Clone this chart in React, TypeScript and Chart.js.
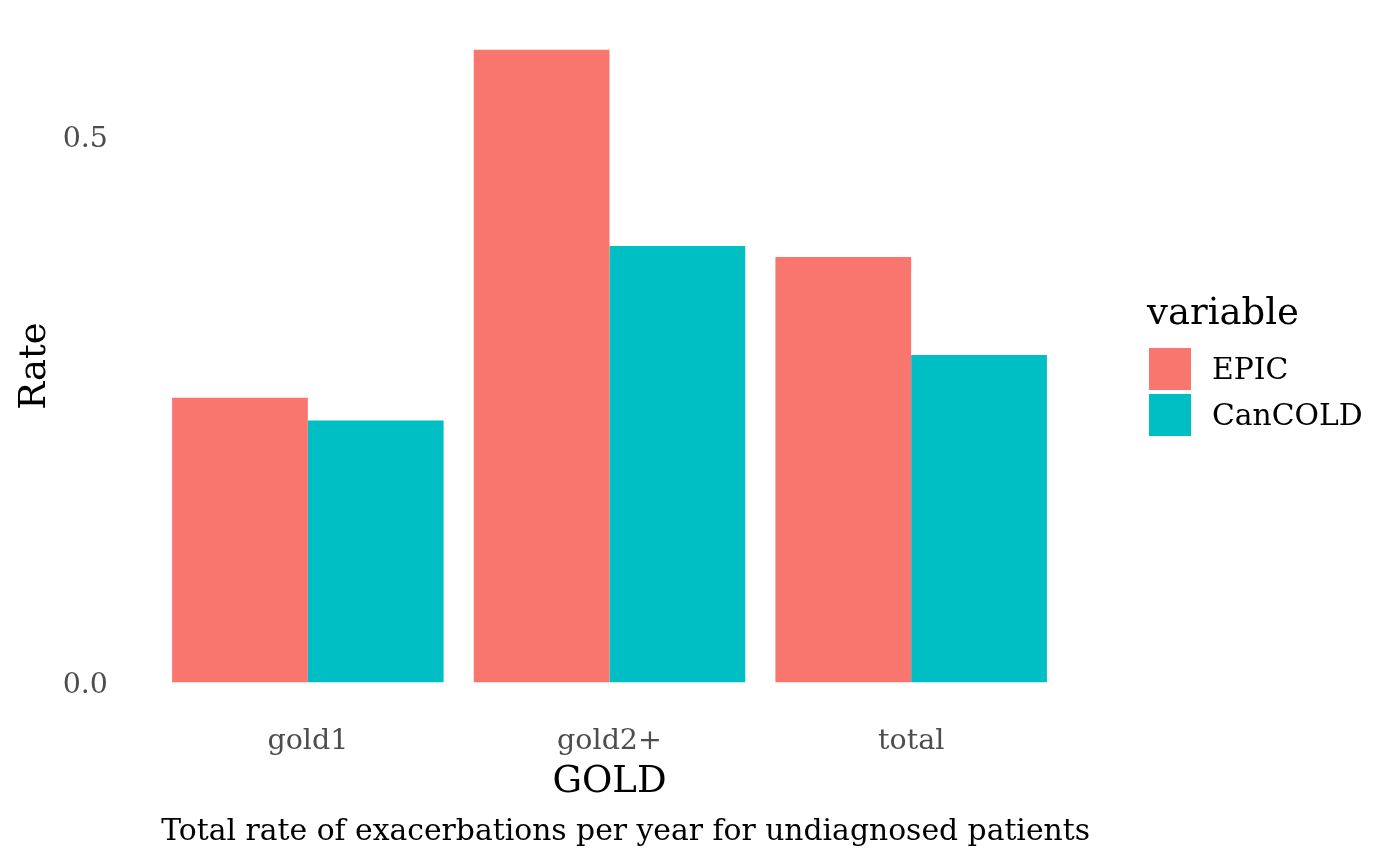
import React, { useEffect, useRef } from "react";
import { Chart, registerables } from "chart.js";

Chart.register(...registerables);

const categories = ["gold1", "gold2+", "total"];
const epicValues = [0.261, 0.58, 0.39];
const cancoldValues = [0.24, 0.4, 0.3];
const seriesNames = ["EPIC", "CanCOLD"];
const seriesColors = ["#F8766D", "#00BFC4"];
const yTickValues = [0, 0.5];
const yMin = -0.029;
const yMax = 0.609;
const xTitle = "GOLD";
const yTitle = "Rate";
const legendTitle = "variable";
const caption = "Total rate of exacerbations per year for undiagnosed patients";

const FONT = "'DejaVu Serif', serif";

export default function App() {
  const canvasRef = useRef<HTMLCanvasElement | null>(null);

  useEffect(() => {
    if (!canvasRef.current) return;
    const chart = new Chart(canvasRef.current, {
      type: "bar",
      data: {
        labels: categories,
        datasets: [
          {
            label: seriesNames[0],
            data: epicValues,
            backgroundColor: seriesColors[0],
            borderWidth: 0,
            barPercentage: 1,
            categoryPercentage: 0.9,
          },
          {
            label: seriesNames[1],
            data: cancoldValues,
            backgroundColor: seriesColors[1],
            borderWidth: 0,
            barPercentage: 1,
            categoryPercentage: 0.9,
          },
        ],
      },
      options: {
        animation: false,
        responsive: false,
        maintainAspectRatio: false,
        layout: { padding: { left: 0, right: 338, top: 18, bottom: 60 } },
        plugins: { legend: { display: false }, tooltip: { enabled: false } },
        scales: {
          x: {
            type: "category",
            offset: true,
            grid: { display: false, drawTicks: false },
            border: { display: false },
            ticks: {
              color: "#4D4D4D",
              font: { family: FONT, size: 28.5 },
              padding: 10,
              maxRotation: 0,
              autoSkip: false,
            },
            title: {
              display: true,
              text: xTitle,
              color: "#000000",
              font: { family: FONT, size: 37 },
              padding: { top: 0, bottom: 0 },
            },
            afterFit: (scale: any) => {
              scale.height = 91;
              scale.paddingLeft = 0;
              scale.paddingRight = 0;
              scale.paddingTop = 0;
              scale.paddingBottom = 0;
            },
          },
          y: {
            type: "linear",
            min: yMin,
            max: yMax,
            grid: { display: false, drawTicks: false },
            border: { display: false },
            afterBuildTicks: (scale: any) => {
              scale.ticks = yTickValues.map((v) => ({ value: v }));
            },
            ticks: {
              color: "#4D4D4D",
              font: { family: FONT, size: 28.5 },
              padding: 49,
              labelOffset: 3,
              callback: (v: any) => Number(v).toFixed(1),
            },
            title: {
              display: true,
              text: yTitle,
              color: "#000000",
              font: { family: FONT, size: 37 },
              padding: { top: 13, bottom: 0 },
            },
            afterFit: (scale: any) => {
              scale.width = 157;
              scale.paddingTop = 0;
              scale.paddingBottom = 0;
              scale.paddingLeft = 0;
              scale.paddingRight = 0;
            },
          },
        },
      },
    });
    return () => chart.destroy();
  }, []);

  return (
    <div style={{ position: "absolute", left: 0, top: 0, width: 1400, height: 865, background: "#fff", fontFamily: FONT }}>
      <canvas ref={canvasRef} width={1400} height={865} style={{ position: "absolute", left: 0, top: 0 }} />
      <div
        style={{
          position: "absolute",
          right: 310,
          top: 830 - 20,
          fontSize: 29.8,
          lineHeight: "40px",
          color: "#000",
          whiteSpace: "nowrap",
        }}
      >
        {caption}
      </div>
      <div style={{ position: "absolute", left: 1147, top: 290, fontSize: 37, lineHeight: "44px", color: "#000" }}>
        {legendTitle}
      </div>
      {seriesNames.map((name, i) => (
        <div key={name}>
          <div
            style={{
              position: "absolute",
              left: 1149,
              top: 348 + i * 46,
              width: 42,
              height: 42,
              background: seriesColors[i],
            }}
          />
          <div
            style={{
              position: "absolute",
              left: 1212,
              top: 369 + i * 46 - 20,
              fontSize: 29.8,
              lineHeight: "40px",
              color: "#000",
              whiteSpace: "nowrap",
            }}
          >
            {name}
          </div>
        </div>
      ))}
    </div>
  );
}
